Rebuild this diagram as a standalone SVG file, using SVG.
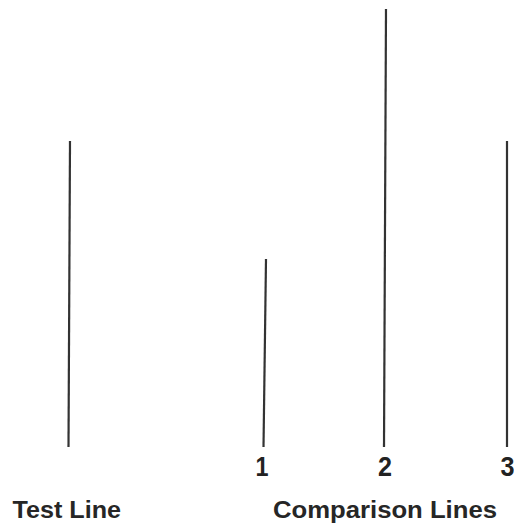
<svg xmlns="http://www.w3.org/2000/svg" width="514" height="527" viewBox="0 0 514 527">
  <style>
    .bar { stroke: #333; stroke-width: 2.2; stroke-linecap: butt; fill: none; }
    .num { font-family: "Liberation Sans", Arial, sans-serif; font-weight: bold; font-size: 27px; fill: #222; text-anchor: middle; }
    .cap { font-family: "Liberation Sans", Arial, sans-serif; font-weight: bold; font-size: 23px; fill: #262626; }
  </style>
  <rect width="514" height="527" fill="#fff"/>

  <!-- reference line -->
  <g id="test-line">
    <line class="bar" x1="70" y1="141" x2="68.5" y2="447"/>
    <text class="cap" x="12.5" y="518" textLength="108.5" lengthAdjust="spacingAndGlyphs">Test Line</text>
  </g>

  <!-- comparison lines -->
  <g id="line-1">
    <line class="bar" x1="266" y1="259" x2="263.5" y2="447"/>
    <text class="num" x="262" y="476" textLength="13" lengthAdjust="spacingAndGlyphs">1</text>
  </g>
  <g id="line-2">
    <line class="bar" x1="386" y1="9" x2="384" y2="447"/>
    <text class="num" x="385" y="476" textLength="14" lengthAdjust="spacingAndGlyphs">2</text>
  </g>
  <g id="line-3">
    <line class="bar" x1="507" y1="141" x2="507" y2="447"/>
    <text class="num" x="507.5" y="476" textLength="14" lengthAdjust="spacingAndGlyphs">3</text>
  </g>

  <text class="cap" x="273" y="518" textLength="224" lengthAdjust="spacingAndGlyphs">Comparison Lines</text>
</svg>
